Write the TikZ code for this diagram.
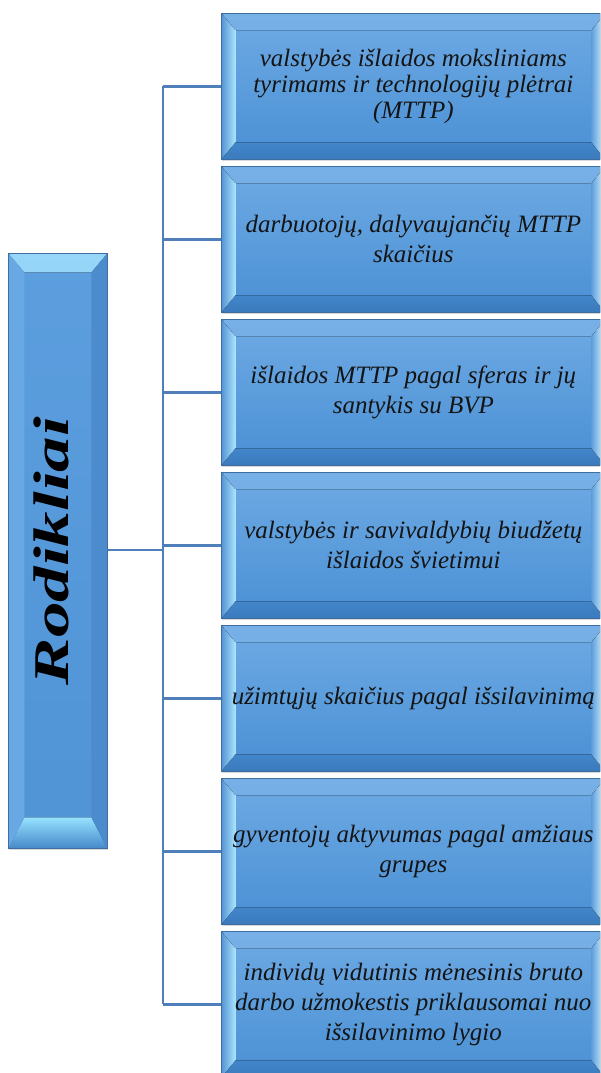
\documentclass[tikz,border=0pt]{standalone}
\usepackage{fontspec}
\setmainfont{Liberation Serif}
\usetikzlibrary{shadows}
\definecolor{connblue}{RGB}{79,127,186}
\definecolor{boxedge}{RGB}{62,110,160}
\definecolor{facetop}{RGB}{110,170,228}
\definecolor{facebot}{RGB}{74,144,212}
\definecolor{bevT1}{RGB}{118,176,230}
\definecolor{bevT2}{RGB}{104,166,225}
\definecolor{bevB1}{RGB}{66,134,202}
\definecolor{bevB2}{RGB}{58,122,188}
\definecolor{bevLout}{RGB}{84,148,212}
\definecolor{bevLin}{RGB}{170,228,252}
\definecolor{bevRin}{RGB}{92,158,220}
\definecolor{bevRout}{RGB}{222,248,255}
\definecolor{lface}{RGB}{92,158,222}
\definecolor{lface2}{RGB}{80,148,214}
\definecolor{lbevT1}{RGB}{150,214,248}
\definecolor{lbevT2}{RGB}{100,164,226}
\definecolor{lbevL}{RGB}{104,168,228}
\definecolor{lbevR}{RGB}{76,140,204}
\definecolor{lbevB1}{RGB}{150,226,255}
\definecolor{lbevB2}{RGB}{70,136,202}
\tikzset{
  conn/.style={draw=connblue, line width=2.6pt},
  bevelpic/.style n args={4}{path picture={
    \fill[top color=bevT1, bottom color=bevT2]
      (path picture bounding box.north west) -- (path picture bounding box.north east)
      -- ([xshift=-#4,yshift=-#1]path picture bounding box.north east)
      -- ([xshift=#3,yshift=-#1]path picture bounding box.north west) -- cycle;
    \fill[top color=bevB1, bottom color=bevB2]
      (path picture bounding box.south west) -- (path picture bounding box.south east)
      -- ([xshift=-#4,yshift=#2]path picture bounding box.south east)
      -- ([xshift=#3,yshift=#2]path picture bounding box.south west) -- cycle;
    \fill[left color=bevLout, right color=bevLin]
      (path picture bounding box.north west) -- ([xshift=#3,yshift=-#1]path picture bounding box.north west)
      -- ([xshift=#3,yshift=#2]path picture bounding box.south west)
      -- (path picture bounding box.south west) -- cycle;
    \fill[left color=bevRin, right color=bevRout]
      (path picture bounding box.north east) -- ([xshift=-#4,yshift=-#1]path picture bounding box.north east)
      -- ([xshift=-#4,yshift=#2]path picture bounding box.south east)
      -- (path picture bounding box.south east) -- cycle;
  }},
  rbox/.style={anchor=north west, minimum width=384pt, minimum height=146pt,
    inner sep=0pt, draw=boxedge, line width=0.7pt, top color=facetop, bottom color=facebot,
    drop shadow={shadow xshift=0.5pt, shadow yshift=-2pt, opacity=0.3},
    bevelpic={17pt}{17pt}{14pt}{14pt},
    align=center, text=black!92, font=\itshape\fontsize{25}{30}\selectfont},
  lbox/.style={anchor=north west, minimum width=99pt, minimum height=595pt,
    inner sep=0pt, draw=boxedge, line width=0.7pt, top color=lface, bottom color=lface2,
    drop shadow={shadow xshift=0.5pt, shadow yshift=-2pt, opacity=0.3},
    path picture={
      \fill[top color=lbevT1, bottom color=lbevT2]
        (path picture bounding box.north west) -- (path picture bounding box.north east)
        -- ([xshift=-16pt,yshift=-19pt]path picture bounding box.north east)
        -- ([xshift=16pt,yshift=-19pt]path picture bounding box.north west) -- cycle;
      \fill[top color=lbevB1, bottom color=lbevB2]
        (path picture bounding box.south west) -- (path picture bounding box.south east)
        -- ([xshift=-16pt,yshift=31pt]path picture bounding box.south east)
        -- ([xshift=16pt,yshift=31pt]path picture bounding box.south west) -- cycle;
      \fill[lbevL]
        (path picture bounding box.north west) -- ([xshift=16pt,yshift=-19pt]path picture bounding box.north west)
        -- ([xshift=16pt,yshift=31pt]path picture bounding box.south west)
        -- (path picture bounding box.south west) -- cycle;
      \fill[lbevR]
        (path picture bounding box.north east) -- ([xshift=-16pt,yshift=-19pt]path picture bounding box.north east)
        -- ([xshift=-16pt,yshift=31pt]path picture bounding box.south east)
        -- (path picture bounding box.south east) -- cycle;
    }},
  title/.style={rotate=90, anchor=base, text=black, font=\bfseries\itshape\fontsize{50}{60}\selectfont}
}
\begin{document}
\begin{tikzpicture}[x=1pt,y=-1pt]
\useasboundingbox (0,0) rectangle (600,1073);
\clip (0,0) rectangle (600,1073);
\fill[white] (0,0) rectangle (600,1073);

\coordinate (spine) at (163,550);

\node[lbox] (L) at (8,253) {};
\node[title] (Ltitle) at (68,551) {\scalebox{1.42}[1]{Rodikliai}};

\node[rbox, font=\itshape\fontsize{25}{26}\selectfont] (b1) at (221,13)
  {valstybės išlaidos moksliniams\\tyrimams ir technologijų plėtrai\\(MTTP)};
\node[rbox] (b2) at (221,166) {darbuotojų, dalyvaujančių MTTP\\skaičius};
\node[rbox] (b3) at (221,319) {išlaidos MTTP pagal sferas ir jų\\santykis su BVP};
\node[rbox] (b4) at (221,472) {valstybės ir savivaldybių biudžetų\\išlaidos švietimui};
\node[rbox] (b5) at (221,625) {užimtųjų skaičius pagal išsilavinimą};
\node[rbox] (b6) at (221,778) {gyventojų aktyvumas pagal amžiaus\\grupes};
\node[rbox] (b7) at (221,931) {individų vidutinis mėnesinis bruto\\darbo užmokestis priklausomai nuo\\išsilavinimo lygio};

\draw[conn] (L.east |- spine) -- (spine);
\draw[conn] (b1.west -| spine) -- (b7.west -| spine);
\foreach \b in {b1,b2,b3,b4,b5,b6,b7}{
  \draw[conn] (\b.west -| spine) -- (\b.west);
}
\end{tikzpicture}
\end{document}
